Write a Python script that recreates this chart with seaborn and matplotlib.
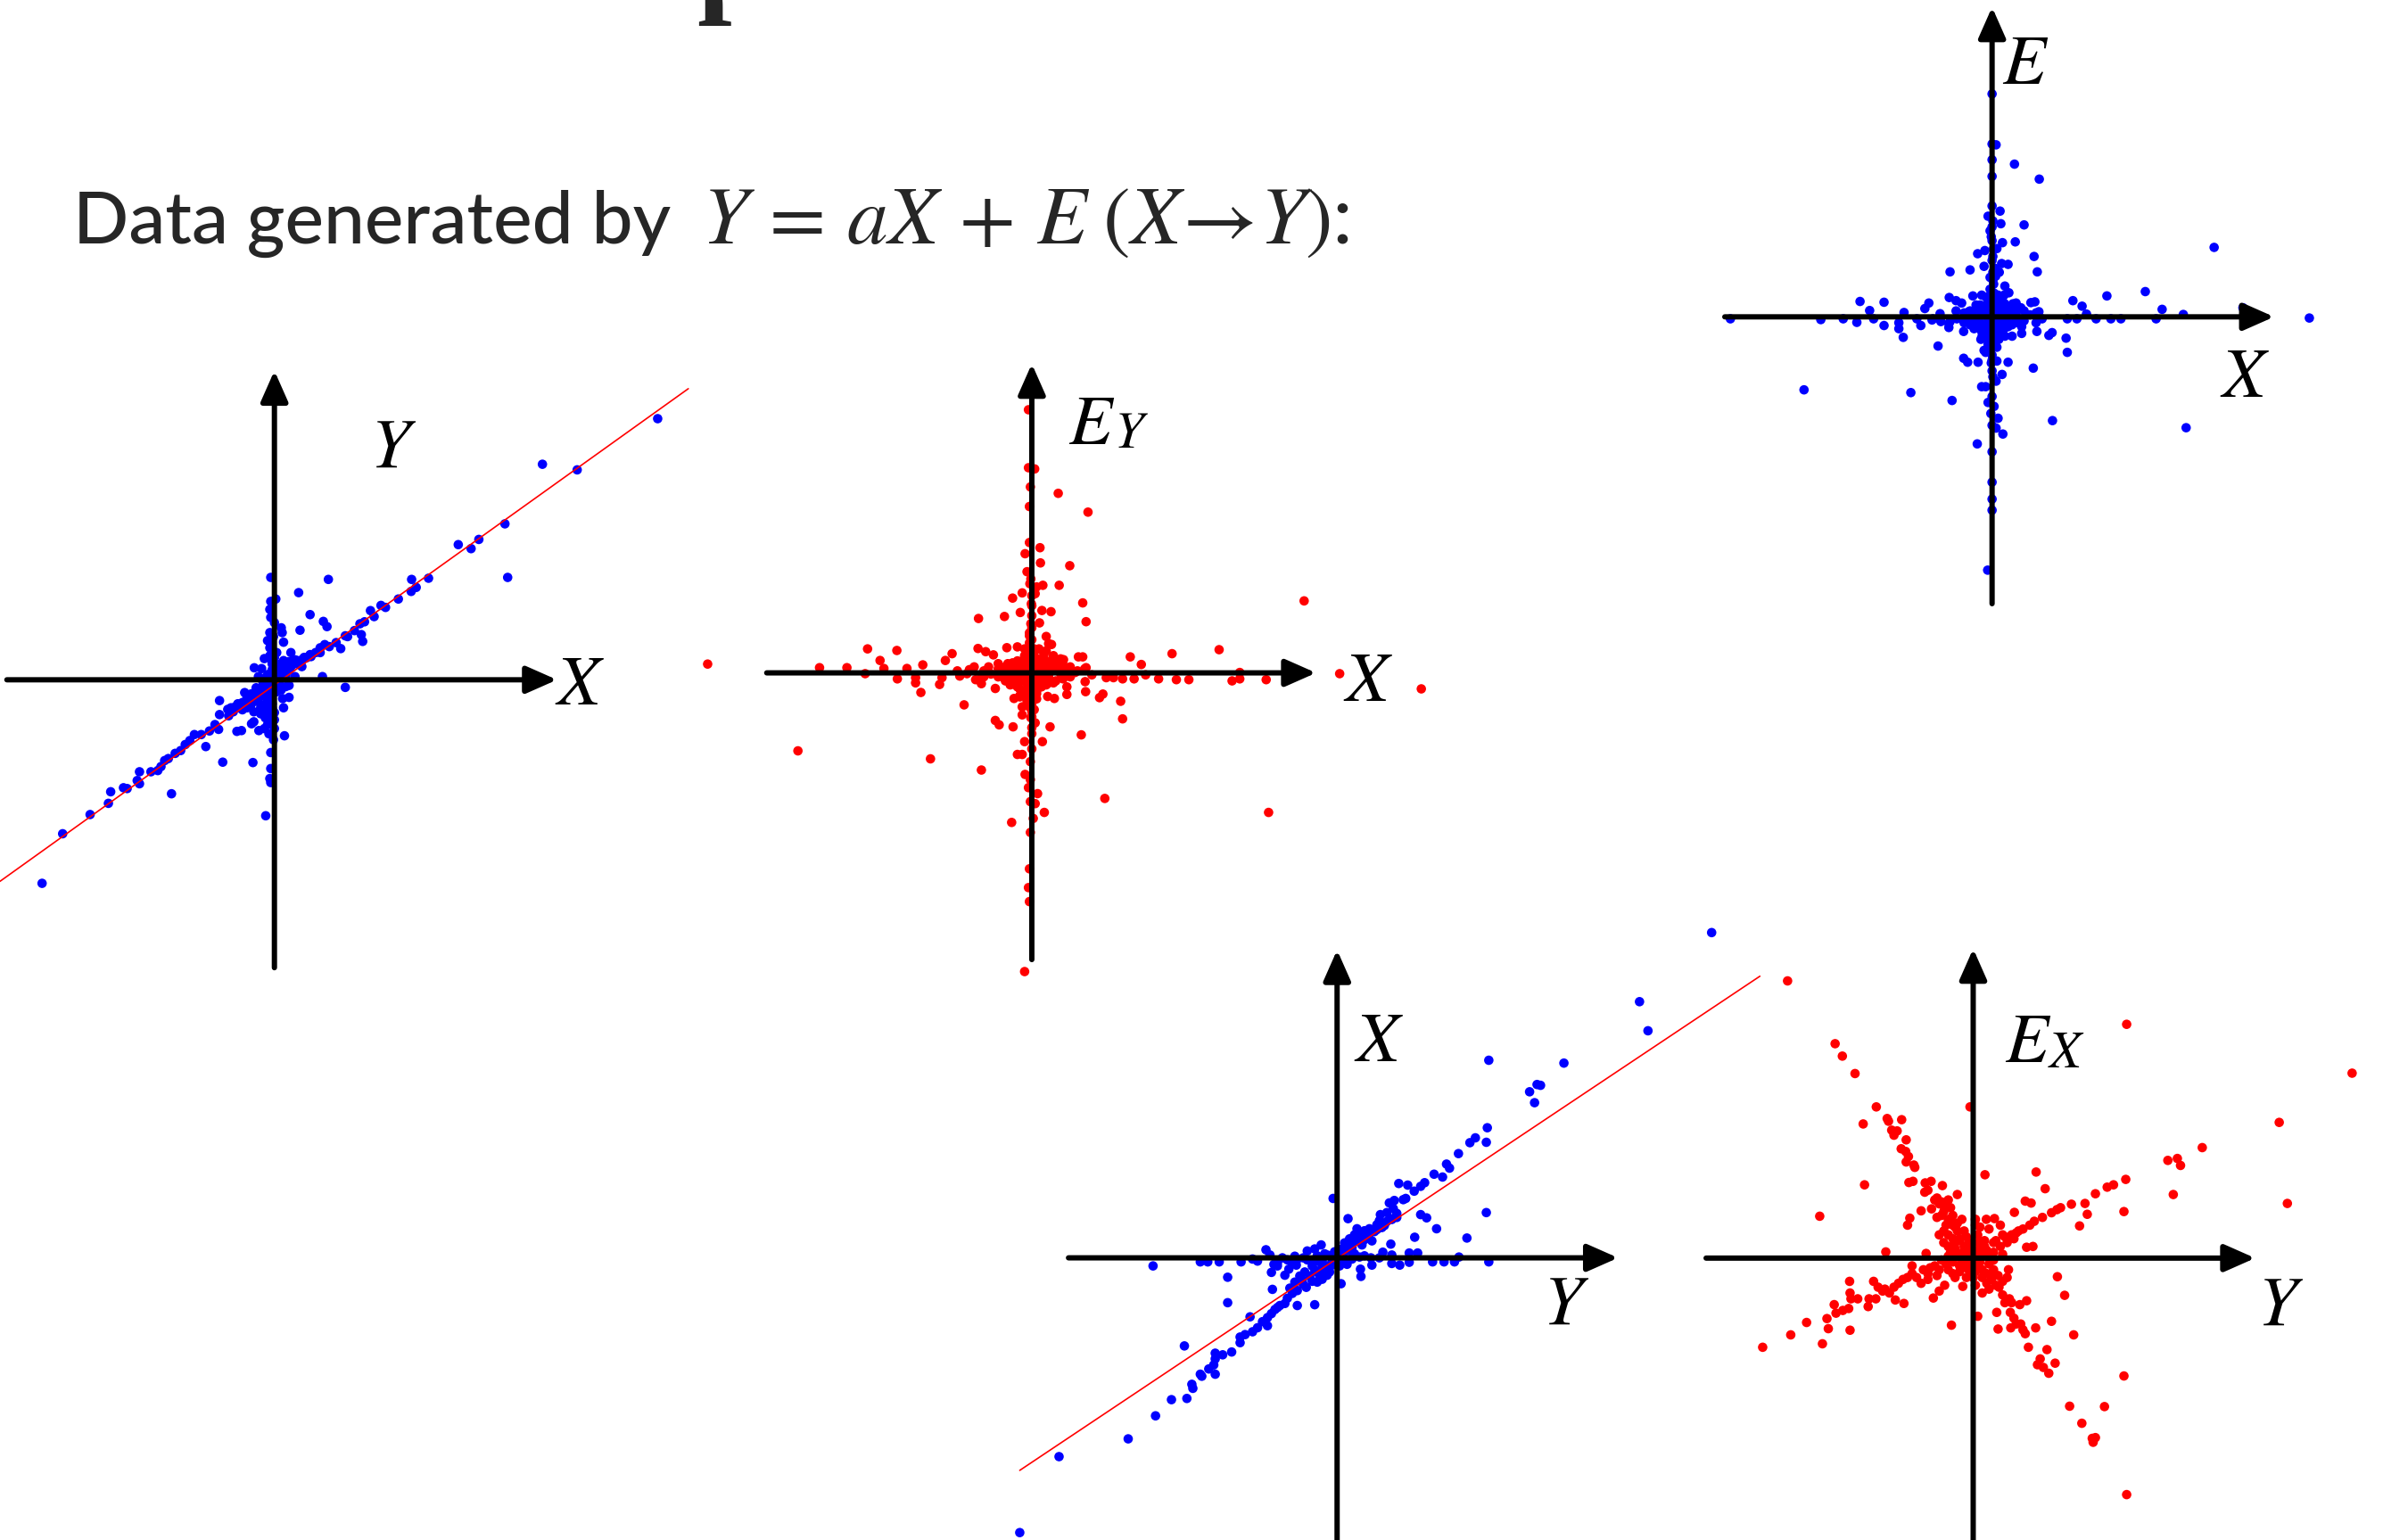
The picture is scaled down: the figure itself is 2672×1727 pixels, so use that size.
import numpy as np
import matplotlib
matplotlib.use("Agg")
import matplotlib.pyplot as plt
import seaborn as sns

# ---------------------------------------------------------------------------
# Data (arbitrary units, origin = axis crossing of each panel)
# ---------------------------------------------------------------------------

# Y against X (cause -> effect), blue
yx_points = [
    (838, 653), (586, 539), (662, 525), (504, 390), (447, 351), (402, 338), (430, 328),
    (510, 256), (337, 254), (300, 251), (310, 231), (299, 221), (271, 202), (243, 181),
    (233, 186), (210, 173), (218, 158), (197, 145), (187, 140), (175, 123), (190, 113),
    (193, 96), (155, 110), (145, 78), (135, 93), (118, 251), (53, 218), (78, 163),
    (107, 146), (115, 133), (56, 124), (110, 88), (100, 80), (90, 68), (78, 63), (65, 56),
    (50, 48), (40, 38), (30, 23), (20, 13), (60, 33), (45, 8), (105, 8), (155, -19),
    (36, 68), (20, 94), (17, 118), (15, 130), (-8, 256), (3, 202), (-8, 196), (-10, 176),
    (-8, 156), (-10, 118), (-15, 98), (-8, 83), (-22, 53), (-44, 30), (-28, 28), (-5, 48),
    (-2, 28), (5, 68), (10, 38), (20, 48), (25, -17), (32, -14), (18, -47), (32, -44),
    (20, -70), (22, -140), (-2, -150), (-8, -182), (-8, -222), (-10, -247), (-8, -257),
    (-19, -340), (-15, -112), (-22, -122), (-34, -127), (-45, -105), (-22, -82), (-20, -62),
    (-10, -32), (-25, -22), (-35, -22), (-40, -37), (-55, -52), (-65, -32), (-70, -57),
    (-85, -67), (-102, -74), (-120, -52), (-120, -87), (-130, -112), (-122, -124),
    (-142, -128), (-160, -137), (-175, -137), (-185, -152), (-195, -162), (-150, -167),
    (-82, -129), (-72, -127), (-50, -110), (-205, -177), (-217, -184), (-232, -197),
    (-240, -202), (-248, -217), (-255, -227), (-270, -230), (-295, -230), (-300, -252),
    (-295, -260), (-225, -285), (-113, -206), (-47, -207), (-330, -270), (-322, -272),
    (-358, -280), (-363, -309), (-403, -337), (-463, -385), (-508, -509),
    (0, 8), (-10, -2), (10, -7), (-20, -12), (-30, -37), (-45, -47), (-10, -62), (0, -82),
    (-5, -97), (0, -122), (-2, 108), (0, 143), (40, 48), (80, 58), (100, 68), (120, 83),
    (160, 108), (-15, 13), (-35, 8),
    (-5, -10), (5, 20), (-15, -25), (-25, -40), (-40, -50), (-50, -60), (-60, -45),
    (15, 25), (25, 35), (35, 30), (-5, 40), (-10, 60), (-5, -60), (-15, -80), (0, -100),
    (10, 0), (-20, 5), (5, -30), (-30, -70), (-10, -45), (15, -25), (0, 55), (50, 40),
    (60, 50), (70, 55), (-75, -70), (-90, -80), (-100, -90), (-60, -70), (-35, -55),
    (-20, -95), (-12, -135), (-25, -15),
    (-40, -20), (-50, -35), (-60, -55), (-25, -5), (-5, 25), (10, 30), (25, 10), (30, 45),
    (45, 50), (55, 45), (-15, -50), (-5, -70), (-30, -85), (-45, -80), (-70, -75),
    (-80, -60), (-95, -70), (-10, 80), (10, -20),
]
yx_fit_x = [-600, 905]
yx_fit_y = [-504, 728]

# residual E_Y of the regression of Y on X, red
ey_points = [
    (-7, 658), (-7, 513), (6, 510), (-3, 465), (55, 449), (-5, 416), (117, 402), (-5, 326),
    (17, 313), (-14, 298), (18, 275), (79, 268), (-10, 253), (-4, 223), (23, 219), (57, 219),
    (10, 215), (-20, 200), (7, 198), (-40, 187), (106, 175), (0, 168), (21, 156), (40, 153),
    (-24, 151), (-57, 141), (-111, 136), (113, 128), (16, 125), (0, 113), (-5, 93), (30, 91),
    (35, 73), (41, 71), (-52, 63), (-30, 65), (-112, 61), (-96, 53), (-80, 45), (-342, 60),
    (-281, 56), (-166, 48), (-180, 31), (-227, 20), (-316, 31), (-308, 11), (-347, -2),
    (-385, 13), (-442, 13), (-675, 22), (-280, -15), (-242, -12), (-242, -25), (-231, -49),
    (-192, -29), (-187, -12), (-117, -17), (-105, -27), (-76, -39), (-37, -64), (-25, -57),
    (5, -37), (33, -59), (47, -64), (73, -54), (73, -35), (111, -22), (112, -47), (141, -62),
    (148, -53), (185, -71), (189, -115), (189, -15), (213, -15), (205, 40), (228, 21),
    (237, -5), (264, -15), (292, 48), (301, -17), (327, -17), (390, 58), (417, -20),
    (433, 1), (433, -15), (488, -17), (567, 180), (641, -2), (811, -40), (97, 40), (106, 40),
    (113, 13), (66, 33), (48, 23), (-141, -80), (-76, -119), (-68, -130), (-39, -135),
    (7, -125), (38, -135), (-20, -105), (5, -92), (103, -155), (22, -172), (0, -190),
    (-15, -172), (-30, -204), (-20, -204), (-3, -222), (-14, -254), (-3, -267), (-7, -287),
    (12, -302), (-3, -322), (7, -327), (26, -349), (-42, -374), (3, -364), (-3, -399),
    (-5, -490), (-7, -537), (-5, -572), (-15, -747), (-487, -195), (-211, -215),
    (-105, -243), (152, -314), (493, -349),
    (-50, 23), (-40, 13), (-30, 8), (-20, -2), (-10, 18), (5, 13), (15, 3), (25, 13),
    (35, 23), (45, 8), (60, -2), (-35, -12), (-25, -22), (-10, -27), (5, -12), (15, 33),
    (25, 43), (5, 43), (-15, 43), (-5, 53), (-45, -2), (-60, 8), (-70, 23), (-85, -3),
    (10, -32), (-10, -42), (-15, -52), (0, -62), (10, -52), (35, -12), (45, 43), (0, 83),
    (-2, 123), (0, 143), (-1, 173), (0, 193), (-2, 235), (0, -77), (0, -97), (-2, -112),
    (0, -137), (0, -152), (-155, 5), (-100, 5), (-135, -2), (-260, 11), (90, 1), (155, -12),
    (170, -12),
    (-50, 10), (-40, 25), (-30, 30), (-20, 20), (-10, 5), (0, 0), (10, 25), (20, 10),
    (30, 25), (40, 30), (50, 15), (65, 10), (-60, -10), (-50, -20), (-40, -15), (-30, -35),
    (-20, -45), (-10, -15), (0, -30), (10, -45), (20, -20), (30, -30), (45, -25), (-15, 60),
    (15, 60), (-5, 75), (10, -65), (-5, -85), (25, 50), (-25, -60), (35, -5), (-45, -30),
    (80, 10), (-100, -10), (-120, 15),
    (-70, 10), (-55, 15), (-40, 5), (-25, 28), (-10, 35), (5, 28), (20, 20), (35, 15),
    (50, 25), (65, 20), (80, 15), (95, 5), (-70, -10), (-55, -20), (-40, -28), (-25, -40),
    (-10, -50), (5, -45), (20, -35), (35, -25), (50, -20), (65, -15), (80, -10), (-25, 5),
    (-10, -5), (5, 5), (20, -5), (-5, 100), (5, 60), (-10, -70), (0, -110), (-20, -85),
    (30, 55), (60, 35), (110, 10), (125, -5), (-90, 15), (-105, -12), (-130, 8), (-150, -8),
]

# true noise E against X, blue
e_points = [
    (0, 565), (0, 438), (10, 436), (0, 398), (56, 387), (0, 356), (118, 349), (0, 281),
    (20, 268), (-10, 255), (22, 236), (80, 233), (-5, 218), (58, 190), (26, 188), (0, 193),
    (12, 173), (-18, 168), (-36, 160), (105, 153), (0, 143), (24, 135), (40, 133), (-20, 128),
    (-55, 119), (-105, 114), (113, 114), (18, 113), (9, 103), (4, 83), (32, 78), (0, 63),
    (42, 61), (-48, 53), (-26, 55), (-107, 49), (-90, 41), (-76, 35), (-330, 39), (-270, 37),
    (-158, 35), (-168, 21), (-220, 11), (-306, 16), (-296, -5), (-338, -14), (-372, -5),
    (-428, -7), (-654, -5), (-270, -22), (-233, -15), (-233, -30), (-222, -52), (-188, -5),
    (-178, -22), (-108, -17), (-108, -27), (-71, -37), (-28, -57), (-16, -45), (12, -42),
    (32, -49), (50, -49), (74, -42), (74, -25), (110, -15), (112, -37), (142, -47),
    (150, -40), (185, -54), (188, -90), (188, -5), (212, -5), (202, 41), (225, 27), (236, 7),
    (260, -5), (287, 53), (297, -5), (322, -5), (383, 64), (410, -5), (425, 19), (478, 6),
    (555, 176), (627, 23), (793, -3), (107, 38), (97, 36), (117, 13), (72, 23), (52, 18),
    (-135, -74), (-71, -105), (-61, -115), (-35, -115), (12, -112), (40, -115), (-16, -90),
    (12, -77), (103, -130), (25, -146), (10, -163), (-26, -177), (-16, -177), (0, -202),
    (-10, -217), (5, -227), (-3, -245), (15, -257), (0, -275), (10, -282), (27, -297),
    (-37, -322), (0, -342), (0, -419), (0, -462), (0, -490), (-11, -642), (-470, -185),
    (-203, -192), (-100, -212), (151, -263), (485, -281),
    (-38, 23), (-28, 13), (-18, 3), (-8, -7), (2, 13), (12, 3), (22, -7), (32, 3), (42, 13),
    (52, 3), (62, -7), (-28, -17), (-18, -27), (2, -27), (12, -17), (22, 23), (32, 33),
    (12, 33), (-8, 33), (2, 43), (-38, -7), (-48, 3), (-58, 13), (-68, -2), (22, -37),
    (2, -47), (-8, -57), (7, -67), (17, -57), (42, -17), (52, 33), (2, 93), (2, 113),
    (7, 123), (2, 153), (4, 173), (-2, 203), (0, 228), (2, 243), (2, -77), (0, -97),
    (-2, -117), (0, -137), (2, -152), (-148, -5), (-88, -5), (-128, -12), (-68, -12),
    (-50, 10), (-40, 20), (-30, 30), (-20, 20), (-10, 10), (0, 0), (10, 20), (20, 10),
    (30, 20), (40, 25), (50, 15), (60, 5), (-60, -10), (-50, -20), (-40, -15), (-30, -30),
    (-20, -40), (-10, -20), (0, -30), (10, -40), (20, -20), (30, -30), (40, -25), (-15, 50),
    (15, 55), (-5, 70), (10, -60), (-5, -80), (25, 45), (-25, -50), (35, -10), (-45, -30),
    (-70, 10), (-55, 15), (-40, 30), (-25, 28), (-10, 35), (5, 28), (20, 30), (35, 15),
    (50, 25), (65, 20), (80, 15), (95, 5), (-70, -15), (-55, -20), (-40, -28), (-25, -40),
    (-10, -50), (5, -45), (20, -35), (35, -25), (50, -20), (65, -15), (80, -10), (-25, 5),
    (-10, -5), (5, 5), (20, -5), (-5, 100), (5, 60), (-10, -70), (0, -110), (-20, -85),
    (30, 55), (60, 35), (110, 10), (125, -5), (-90, 15), (-105, -12), (-130, 8), (-150, -8),
]

# X against Y (anti-causal direction), blue
xy_points = [
    (753, 805), (608, 634), (625, 562), (305, 489), (456, 482), (409, 427), (402, 429),
    (387, 411), (397, 384), (302, 322), (300, 286), (278, 297), (267, 285), (244, 258),
    (220, 232), (226, 222), (195, 207), (212, 200), (176, 186), (168, 177), (155, 165),
    (124, 184), (142, 180), (138, 147), (133, 144), (115, 142), (105, 136), (113, 122),
    (100, 112), (87, 107), (85, 92), (80, 82), (65, 72), (55, 67), (45, 62), (35, 57),
    (40, 72), (25, 47), (15, 37), (10, 22), (60, 52), (70, 42), (50, 32), (22, 97), (-8, 147),
    (108, 97), (120, 100), (168, 107), (180, 99), (200, 72), (300, 112), (261, 49), (156, 51),
    (108, 34), (92, 14), (145, 12), (162, 12), (110, 7), (245, 2), (236, -10), (215, -10),
    (192, -10), (305, -10), (145, -11), (126, -18), (110, -14), (85, 0), (68, 0), (70, -18),
    (47, -28), (48, -46), (20, -16), (8, -64), (-20, -43), (-30, -53), (-40, -60), (-50, -58),
    (-62, -73), (-68, -66), (-80, -81), (-45, -116), (-80, -118), (-90, -88), (-100, -100),
    (-105, -113), (-120, -123), (-125, -128), (-115, -118), (-132, -138), (-140, -148),
    (-140, -168), (-150, -158), (-160, -173), (-175, -146), (-170, -183), (-185, -190),
    (-195, -196), (-195, -210), (-212, -233), (-230, -240), (-245, -236), (-245, -250),
    (-248, -265), (-258, -275), (-245, -288), (-275, -288), (-272, -293), (-292, -313),
    (-290, -323), (-307, -218), (-302, -348), (-333, -351), (-365, -391), (-420, -448),
    (-559, -492), (-638, -680), (-220, -111), (-220, -48), (-130, -78), (-132, -36),
    (-127, -16), (-105, -43), (-97, -28), (-82, -18), (-370, -20), (-275, -10), (-260, -10),
    (-237, -10), (-193, -10), (-170, -3), (-160, -8), (-143, 20), (-135, 7), (-120, -13),
    (-85, 4), (-60, 17), (-45, 22), (-32, 32), (-82, -8), (-68, 0), (-50, -8), (-30, -8),
    (-20, 7), (-10, -18), (10, -8), (30, -3), (45, 2), (30, 12), (20, 32),
    (0, 0), (-10, -10), (-20, -20), (-30, -25), (-40, -35), (10, 10), (20, 20), (30, 25),
    (-60, -5), (-40, 5), (-25, 10), (-5, 15), (15, -5), (35, 10), (55, 5), (-90, -10),
    (-110, 0), (-15, -35), (-35, -45), (-55, -45), (-70, -55), (40, 45), (50, 55), (60, 60),
    (75, 65), (90, 75), (100, 90),
    (-25, -30), (-45, -30), (-50, -20), (-65, -35), (-75, -45), (-85, -60), (-95, -75),
    (-10, 0), (5, 5), (15, 15), (25, 30), (35, 40), (45, 50), (5, -20), (-15, 5),
    (-35, -10), (-100, -5), (-120, -20), (55, 45), (65, 60), (80, 70), (95, 80), (110, 95),
    (120, 110),
]
xy_fit_y = [-638, 850]
xy_fit_x = [-526, 697]

# residual E_X of the regression of X on Y, red
ex_points = [
    (-410, 715), (339, 603), (837, 477), (-305, 553), (-289, 521), (-261, 476), (-214, 390),
    (-7, 390), (-243, 346), (-190, 360), (-187, 353), (-158, 357), (-180, 330), (-168, 328),
    (-175, 317), (-148, 305), (-159, 282), (-149, 275), (-143, 262), (-148, 248), (-131, 240),
    (-129, 234), (676, 350), (506, 285), (430, 252), (451, 257), (458, 239), (442, 164),
    (694, 141), (26, 215), (139, 222), (337, 203), (310, 189), (296, 183), (270, 166),
    (159, 179), (247, 141), (217, 139), (333, 120), (252, 113), (235, 83), (193, 130),
    (185, 125), (173, 117), (153, 105), (135, 95), (115, 147), (128, 142), (91, 118),
    (125, 85), (110, 75), (95, 65), (90, 50), (118, 28), (132, 30), (60, 85), (47, 102),
    (29, 100), (35, 75), (65, 60), (45, 40), (25, 30), (-240, 189), (-339, 108), (-142, 195),
    (-133, 198), (-106, 194), (-93, 198), (-68, 187), (-107, 170), (-100, 175), (-35, 164),
    (-80, 155), (-70, 145), (-55, 150), (-115, 122), (-92, 127), (-140, 103), (-145, 85),
    (-80, 105), (-65, 120), (-55, 100), (-45, 85), (-35, 70), (-75, 60), (-65, 40), (-55, 30),
    (-40, 40), (-30, 50), (-15, 55), (-20, 30), (-10, 15), (-35, 10), (-55, 5), (-193, 16),
    (-104, 12), (10, 20), (15, -10), (35, -15), (45, -30), (55, -45), (65, -60), (78, -30),
    (75, -50), (57, -75), (65, -95), (80, -105), (85, -115), (70, -115), (103, -120),
    (118, -110), (186, -48), (202, -96), (82, -140), (90, -155), (52, -140), (95, -170),
    (83, -180), (105, -170), (110, -185), (115, -195), (138, -180), (55, -183), (173, -163),
    (222, -198), (122, -230), (163, -236), (148, -260), (142, -275), (155, -282), (167, -297),
    (181, -271), (333, -304), (213, -382), (290, -383), (240, -426), (263, -465), (270, -463),
    (265, -475), (339, -610), (10, -150), (-48, -173), (-23, -73), (-75, -85), (-63, -70),
    (-88, -103), (-40, -50), (-45, -40), (-55, -30), (-75, -30), (-95, -25), (-110, -30),
    (-135, -20), (-135, -40), (-125, -50), (-145, -50), (-155, -55), (-165, -65), (-175, -75),
    (-195, -80), (-185, -90), (-200, -85), (-220, -60), (-210, -75), (-230, -105), (-215, -105),
    (-172, -108), (-153, -117), (-255, -105), (-272, -90), (-273, -60), (-270, -105),
    (-307, -120), (-275, -130), (-288, -135), (-303, -142), (-232, -125), (-323, -156),
    (-320, -182), (-368, -166), (-272, -186), (-403, -198), (-333, -221), (-465, -230),
    (-15, -10), (-30, -20), (-10, -30), (0, -50), (5, -70), (-15, -50), (-5, 35), (-20, 70),
    (-45, 110), (-50, 130), (-65, 135), (-75, 140), (-85, 150), (25, 10), (45, 15), (65, 10),
    (10, 60), (15, 80), (5, 85), (12, 40),
    (0, 0), (-10, 10), (-20, 20), (-30, 10), (-40, 25), (-50, 15), (10, -20), (20, -30),
    (30, -40), (-5, -15), (-25, -5), (-45, -10), (-60, -15), (15, 25), (30, 20), (25, 45),
    (-35, 90), (-25, 100), (-40, 80), (-55, 60), (-60, 85), (40, -55), (50, -70), (20, -90),
    (35, -80), (-85, -20), (-100, -40), (5, 100), (60, 30), (75, 40),
    (-20, 0), (-40, 5), (-15, -25), (-30, -35), (5, -35), (-10, 40), (-30, 45), (-45, 50),
    (-65, 70), (-50, 95), (-70, 110), (20, -50), (30, -65), (45, -45), (-70, -5), (-80, -45),
    (-100, -55), (-115, -65), (50, 45), (70, 55), (85, 60), (100, 70), (-5, -45), (15, 5),
    (30, 5), (45, -5),
]

yx_x, yx_y = map(np.array, zip(*yx_points))
ey_x, ey_e = map(np.array, zip(*ey_points))
e_x, e_e = map(np.array, zip(*e_points))
xy_y, xy_x = map(np.array, zip(*xy_points))
ex_y, ex_e = map(np.array, zip(*ex_points))

# ---------------------------------------------------------------------------
# Style
# ---------------------------------------------------------------------------
sns.set_theme(style="white")
plt.rcParams["font.family"] = ["Lato", "DejaVu Sans"]
plt.rcParams["mathtext.fontset"] = "stix"

W, H = 2672, 1727
fig = plt.figure(figsize=(W / 100, H / 100), dpi=100)
fig.patch.set_facecolor("white")

BLUE = "#0000ff"
RED = "#ff0000"
DOT = 58
LABEL = 57
SUB = 42


def panel(box, scale, origin):
    """Axes whose data origin sits at the crossing of the two arrows."""
    left, top, w, h = box
    sx, sy = scale
    ox, oy = origin
    ax = fig.add_axes([left / W, 1 - (top + h) / H, w / W, h / H])
    ax.set_xlim(-ox, w * sx - ox)
    ax.set_ylim(oy - h * sy, oy)
    ax.set_axis_off()
    ax.patch.set_alpha(0)
    return ax


def arrows(ax, hspan, vspan):
    style = "-|>,head_length=0.95,head_width=0.42"
    props = dict(arrowstyle=style, lw=4.3, color="black",
                 shrinkA=0, shrinkB=0, mutation_scale=22)
    ax.annotate("", xy=(hspan[1], 0), xytext=(hspan[0], 0),
                arrowprops=props, annotation_clip=False, zorder=4)
    ax.annotate("", xy=(0, vspan[1]), xytext=(0, vspan[0]),
                arrowprops=props, annotation_clip=False, zorder=4)


def dots(ax, x, y, color):
    sns.scatterplot(x=x, y=y, ax=ax, color=color, s=DOT, edgecolor="none",
                    linewidth=0, clip_on=False, zorder=2, legend=False)
    pts = ax.collections[-1]
    pts.set_sizes([DOT])
    pts.set_edgecolor("none")
    pts.set_linewidths(0)


def label(ax, x, y, text, size=LABEL):
    ax.text(x, y, text, fontsize=size, ha="center", va="baseline",
            color="black", clip_on=False, zorder=5)


# Y vs X
ax = panel((0, 400, 800, 700), (1.95, 2.23), (600, 808))
dots(ax, yx_x, yx_y, BLUE)
sns.lineplot(x=yx_fit_x, y=yx_fit_y, ax=ax, color=RED, lw=1.2, zorder=3)
arrows(ax, (-585, 618), (-720, 773))
label(ax, 260, 533, "$Y$")
label(ax, 668, -62, "$X$")

# E_Y vs X
ax = panel((780, 390, 840, 700), (1.857, 2.23), (700, 813))
dots(ax, ey_x, ey_e, RED)
arrows(ax, (-552, 592), (-717, 773))
label(ax, 125, 573, "$E$")
label(ax, 207, 563, "$Y$", SUB)
label(ax, 700, -69, "$X$")

# E vs X
ax = panel((1925, 0, 700, 690), (2.229, 2.26), (688, 803))
dots(ax, e_x, e_e, BLUE)
arrows(ax, (-668, 705), (-727, 785))
label(ax, 84, 590, "$E$")
label(ax, 632, -202, "$X$")

# X vs Y
ax = panel((1120, 1020, 870, 707), (1.793, 2.207), (680, 862))
dots(ax, xy_y, xy_x, BLUE)
sns.lineplot(x=xy_fit_y, y=xy_fit_x, ax=ax, color=RED, lw=1.2, zorder=3)
arrows(ax, (-540, 565), (-700, 762))
label(ax, 84, 486, "$X$")
label(ax, 460, -163, "$Y$")

# E_X vs Y
ax = panel((1880, 1050, 792, 677), (1.97, 2.30), (655, 830))
dots(ax, ex_y, ex_e, RED)
arrows(ax, (-590, 623), (-727, 798))
label(ax, 122, 505, "$E$")
label(ax, 205, 493, "$X$", SUB)
label(ax, 678, -173, "$Y$")

# Heading
fig.text(781 / W, 1 + 1 / H, "p", fontsize=100, fontweight="bold",
         family=["Liberation Serif", "DejaVu Serif"], ha="left", va="baseline")
fig.text(82 / W, 1 - 273 / H, "Data generated by", fontsize=59,
         fontweight="medium", ha="left", va="baseline")
fig.text(787 / W, 1 - 273 / H,
         r"$Y\,=\,aX\,+\,E\;(X\!\rightarrow\!Y)$:", fontsize=66,
         ha="left", va="baseline")

fig.savefig("out.png", dpi=100, facecolor="white")
